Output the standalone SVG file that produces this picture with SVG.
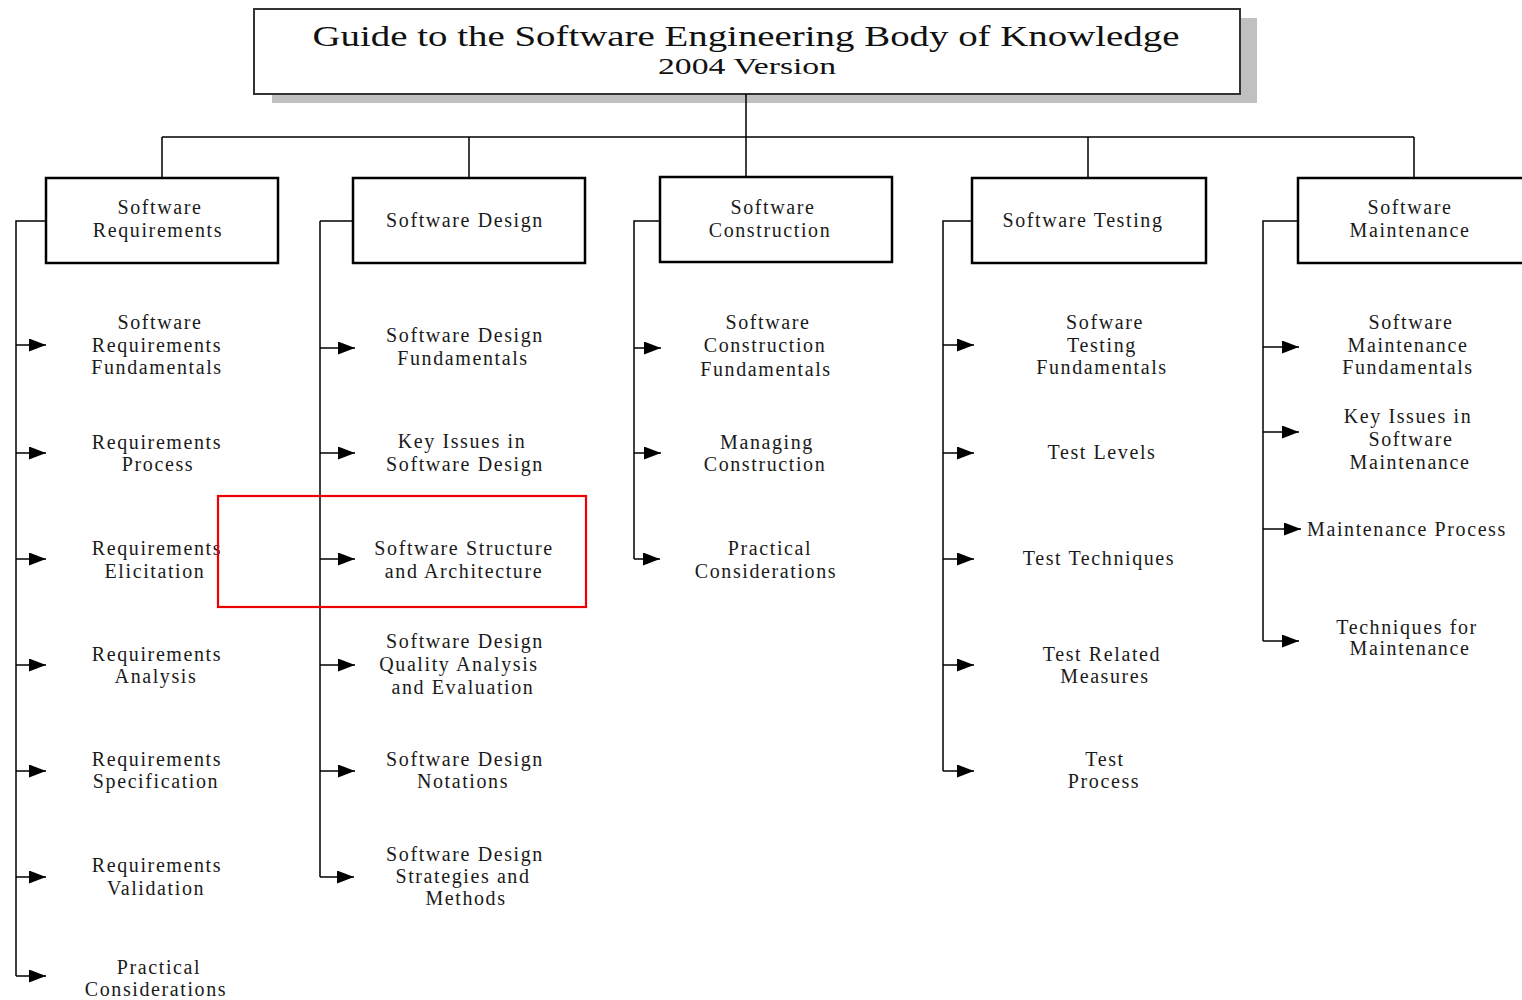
<svg xmlns="http://www.w3.org/2000/svg" width="1522" height="1000" viewBox="0 0 1522 1000">
<style>
.box{fill:#fff;stroke:#000;stroke-width:2.5}
.ln{fill:none;stroke:#000;stroke-width:1.5}
.t{font-family:"Liberation Serif","Times New Roman",serif;font-size:20px;fill:#1a1a1a;text-anchor:middle;letter-spacing:1.6px}
.tt{font-family:"Liberation Serif","Times New Roman",serif;fill:#111;text-anchor:middle}
</style>
<defs>
<marker id="ah" markerUnits="userSpaceOnUse" markerWidth="18" markerHeight="14" refX="17" refY="6.5" orient="auto">
<path d="M0,0 L17,6.5 L0,13 z" fill="#000"/>
</marker>
</defs>
<rect width="1522" height="1000" fill="#fff"/>

<g id="title">
<rect x="272" y="18" width="985" height="85" fill="#c0c0c0"/>
<rect x="254" y="9" width="986" height="85" fill="#fff" stroke="#333" stroke-width="2"/>
<text class="tt" x="746" y="46" font-size="30" textLength="867" lengthAdjust="spacingAndGlyphs">Guide to the Software Engineering Body of Knowledge</text>
<text class="tt" x="747" y="74" font-size="24" textLength="178" lengthAdjust="spacingAndGlyphs">2004 Version</text>
</g>

<g id="connectors">
<path class="ln" d="M746,94 V177 M162,137 H1414 M162,137 V178 M469,137 V178 M1088,137 V178 M1414,137 V178"/>
<path class="ln" d="M46,221 H16 V976 M320,221 V877 M353,221 H320 M660,221 H634 V559 M972,221 H943 V771 M1298,221 H1263 V641"/>
<g marker-end="url(#ah)" class="ln">
<path d="M16,345 H46"/><path d="M16,453 H46"/><path d="M16,559 H46"/><path d="M16,665 H46"/><path d="M16,771 H46"/><path d="M16,877 H46"/><path d="M16,976 H46"/>
<path d="M320,348 H355"/><path d="M320,453 H355"/><path d="M320,559 H355"/><path d="M320,665 H355"/><path d="M320,771 H355"/><path d="M320,877 H354"/>
<path d="M634,348 H661"/><path d="M634,453 H661"/><path d="M634,559 H660"/>
<path d="M943,345 H974"/><path d="M943,453 H974"/><path d="M943,559 H974"/><path d="M943,665 H974"/><path d="M943,771 H974"/>
<path d="M1263,347 H1299"/><path d="M1263,432 H1299"/><path d="M1263,529 H1301"/><path d="M1263,641 H1299"/>
</g>
</g>

<g id="n-req">
<rect class="box" x="46" y="178" width="232" height="85"/>
<text class="t" x="160" y="214">Software</text><text class="t" x="158" y="237">Requirements</text>
</g>
<g id="n-des">
<rect class="box" x="353" y="178" width="232" height="85"/>
<text class="t" x="465" y="227">Software Design</text>
</g>
<g id="n-con">
<rect class="box" x="660" y="177" width="232" height="85"/>
<text class="t" x="773" y="214">Software</text><text class="t" x="770" y="237">Construction</text>
</g>
<g id="n-tes">
<rect class="box" x="972" y="178" width="234" height="85"/>
<text class="t" x="1083" y="227">Software Testing</text>
</g>
<g id="n-mai">
<rect class="box" x="1298" y="178" width="240" height="85"/>
<text class="t" x="1410" y="214">Software</text><text class="t" x="1410" y="237">Maintenance</text>
</g>

<g id="c1">
<text class="t" x="160" y="329">Software</text><text class="t" x="157" y="352">Requirements</text><text class="t" x="157" y="374">Fundamentals</text>
<text class="t" x="157" y="449">Requirements</text><text class="t" x="158" y="471">Process</text>
<text class="t" x="157" y="555">Requirements</text><text class="t" x="155" y="578">Elicitation</text>
<text class="t" x="157" y="661">Requirements</text><text class="t" x="156" y="683">Analysis</text>
<text class="t" x="157" y="766">Requirements</text><text class="t" x="156" y="788">Specification</text>
<text class="t" x="157" y="872">Requirements</text><text class="t" x="156" y="895">Validation</text>
<text class="t" x="159" y="974">Practical</text><text class="t" x="156" y="996">Considerations</text>
</g>
<g id="c2">
<text class="t" x="465" y="342">Software Design</text><text class="t" x="463" y="365">Fundamentals</text>
<text class="t" x="462" y="448">Key Issues in</text><text class="t" x="465" y="471">Software Design</text>
<text class="t" x="464" y="555">Software Structure</text><text class="t" x="464" y="578">and Architecture</text>
<text class="t" x="465" y="648">Software Design</text><text class="t" x="459" y="671">Quality Analysis</text><text class="t" x="463" y="694">and Evaluation</text>
<text class="t" x="465" y="766">Software Design</text><text class="t" x="463" y="788">Notations</text>
<text class="t" x="465" y="861">Software Design</text><text class="t" x="463" y="883">Strategies and</text><text class="t" x="466" y="905">Methods</text>
</g>
<g id="c3">
<text class="t" x="768" y="329">Software</text><text class="t" x="765" y="352">Construction</text><text class="t" x="766" y="376">Fundamentals</text>
<text class="t" x="767" y="449">Managing</text><text class="t" x="765" y="471">Construction</text>
<text class="t" x="770" y="555">Practical</text><text class="t" x="766" y="578">Considerations</text>
</g>
<g id="c4">
<text class="t" x="1105" y="329">Sofware</text><text class="t" x="1102" y="352">Testing</text><text class="t" x="1102" y="374">Fundamentals</text>
<text class="t" x="1102" y="459">Test Levels</text>
<text class="t" x="1099" y="565">Test Techniques</text>
<text class="t" x="1102" y="661">Test Related</text><text class="t" x="1105" y="683">Measures</text>
<text class="t" x="1105" y="766">Test</text><text class="t" x="1104" y="788">Process</text>
</g>
<g id="c5">
<text class="t" x="1411" y="329">Software</text><text class="t" x="1408" y="352">Maintenance</text><text class="t" x="1408" y="374">Fundamentals</text>
<text class="t" x="1408" y="423">Key Issues in</text><text class="t" x="1411" y="446">Software</text><text class="t" x="1410" y="469">Maintenance</text>
<text class="t" x="1407" y="536">Maintenance Process</text>
<text class="t" x="1407" y="634">Techniques for</text><text class="t" x="1410" y="655">Maintenance</text>
</g>

<rect id="highlight" x="218" y="496" width="368" height="111" fill="none" stroke="#e00" stroke-width="2.2"/>
</svg>
